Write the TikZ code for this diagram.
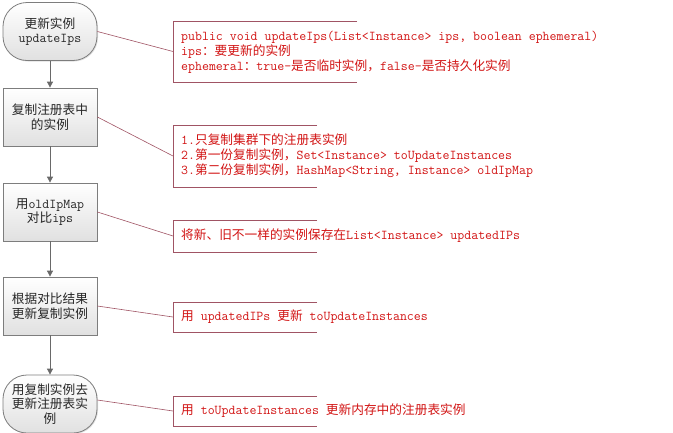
\documentclass[tikz,border=0pt]{standalone}
\usepackage{fontspec}
\setmainfont{Latin Modern Mono}
\newfontfamily\cjk[Scale=0.94]{Noto Sans CJK SC}
\newcommand\zh[1]{{\cjk #1}}
\usetikzlibrary{arrows.meta,shadows}
\definecolor{linkc}{RGB}{160,84,100}
\definecolor{annoc}{RGB}{210,20,20}
\definecolor{boxc}{RGB}{125,125,125}
\definecolor{arrc}{RGB}{105,105,105}
\begin{document}
\begin{tikzpicture}[x=1pt,y=-1pt,
  stepbox/.style={draw=boxc, top color=white, bottom color=black!12, minimum width=94pt, minimum height=58pt,
    inner sep=2pt, align=center, font=\fontsize{13.5}{14.5}\selectfont, text=black!85, line width=0.8pt,
    drop shadow={shadow xshift=1pt,shadow yshift=-1pt,opacity=0.25}},
  termbox/.style={stepbox, rounded corners=24pt},
  anno/.style={anchor=west, align=left, text=annoc, font=\fontsize{13.5}{15}\selectfont, inner sep=0pt},
  link/.style={draw=linkc, line width=0.6pt},
  bracket/.style={draw=linkc, line width=0.8pt},
  flow/.style={draw=arrc, line width=0.8pt, -{Triangle[width=6pt,length=6pt]}}]
\useasboundingbox[fill=white] (0,0) rectangle (673,432);

% flow nodes
\node[termbox] (n1) at (50,31.5) {\zh{更新实例}\\updateIps};
\node[stepbox] (n2) at (50,117) {\zh{复制注册表中}\\\zh{的实例}};
\node[stepbox] (n3) at (50,212) {\zh{用}oldIpMap\\\zh{对比}ips};
\node[stepbox] (n4) at (50,306) {\zh{根据对比结果}\\\zh{更新复制实例}};
\node[termbox] (n5) at (50,404) {\zh{用复制实例去}\\\zh{更新注册表实}\\\zh{例}};

\draw[flow] (n1) -- (n2);
\draw[flow] (n2) -- (n3);
\draw[flow] (n3) -- (n4);
\draw[flow] (n4) -- (n5);

% annotation brackets
\draw[bracket] (357,21) -- (173,21) -- (173,82) -- (357,82);
\draw[bracket] (317,125) -- (173,125) -- (173,187) -- (317,187);
\draw[bracket] (317,220) -- (173,220) -- (173,252) -- (317,252);
\draw[bracket] (317,302) -- (173,302) -- (173,332) -- (317,332);
\draw[bracket] (317,396) -- (173,396) -- (173,426) -- (317,426);
\coordinate (b1) at (173,51.5);
\coordinate (b2) at (173,156);
\coordinate (b3) at (173,236);
\coordinate (b4) at (173,317);
\coordinate (b5) at (173,411);

\node[anno] (t1) at (181,52) {public void updateIps(List<Instance> ips, boolean ephemeral)\\
ips\zh{：要更新的实例}\\
ephemeral\zh{：}true-\zh{是否临时实例，}false-\zh{是否持久化实例}};
\node[anno] (t2) at (181,156) {1.\zh{只复制集群下的注册表实例}\\
2.\zh{第一份复制实例，}Set<Instance> toUpdateInstances\\
3.\zh{第二份复制实例，}HashMap<String, Instance> oldIpMap};
\node[anno] (t3) at (181,236) {\zh{将新、旧不一样的实例保存在}List<Instance> updatedIPs};
\node[anno] (t4) at (181,317) {\zh{用} updatedIPs \zh{更新} toUpdateInstances};
\node[anno] (t5) at (181,411) {\zh{用} toUpdateInstances \zh{更新内存中的注册表实例}};

% connectors
\draw[link] (n1.east) -- (b1);
\draw[link] (n2.east) -- (b2);
\draw[link] (n3.east) -- (b3);
\draw[link] (n4.east) -- (b4);
\draw[link] ([yshift=4pt]n5.east) -- (b5);
\end{tikzpicture}
\end{document}
